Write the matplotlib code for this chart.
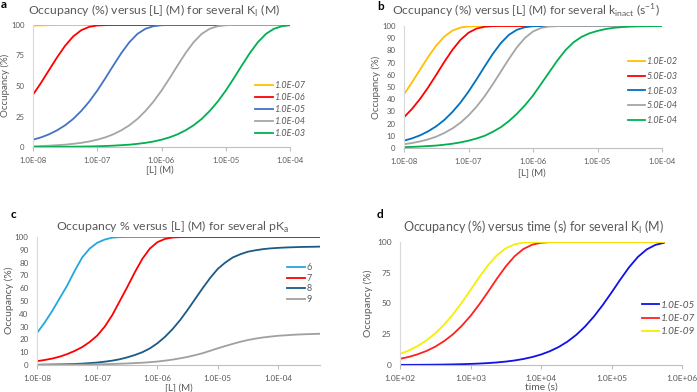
import numpy as np
import matplotlib
matplotlib.use('Agg')
import matplotlib.pyplot as plt

plt.rcParams['font.family'] = ['Lato', 'DejaVu Sans']
plt.rcParams['mathtext.fontset'] = 'custom'
plt.rcParams['mathtext.rm'] = 'Lato'

# ---- data (1/8 decade steps) ----
conc_ab = [1.0e-8, 1.334e-8, 1.778e-8, 2.371e-8, 3.162e-8, 4.217e-8, 5.623e-8, 7.499e-8,
           1.0e-7, 1.334e-7, 1.778e-7, 2.371e-7, 3.162e-7, 4.217e-7, 5.623e-7, 7.499e-7,
           1.0e-6, 1.334e-6, 1.778e-6, 2.371e-6, 3.162e-6, 4.217e-6, 5.623e-6, 7.499e-6,
           1.0e-5, 1.334e-5, 1.778e-5, 2.371e-5, 3.162e-5, 4.217e-5, 5.623e-5, 7.499e-5,
           1.0e-4]

# panel a: several KI (M)
ki_labels_a = ['1.0E-07', '1.0E-06', '1.0E-05', '1.0E-04', '1.0E-03']
a_ki7 = [99.6, 99.7, 99.9] + [100] * 30
a_ki6 = [42.9, 52.6, 63.1, 73.5, 83.0, 90.6, 95.7, 98.5, 99.6, 99.9] + [100] * 23
a_ki5 = [6.0, 7.9, 10.4, 13.7, 17.8, 23.0, 29.5, 37.2, 46.2, 56.3, 66.8, 77.0, 85.9,
         92.7, 96.9, 99.0, 99.8] + [100] * 16
a_ki4 = [0.6, 0.8, 1.1, 1.5, 1.9, 2.6, 3.4, 4.5,
         6.0, 7.9, 10.4, 13.7, 17.8, 23.0, 29.5, 37.2, 46.2, 56.3, 66.8, 77.0, 85.9,
         92.7, 96.9, 99.0, 99.8] + [100] * 8
a_ki3 = [0.06, 0.08, 0.11, 0.15, 0.2, 0.26, 0.35, 0.46, 0.6, 0.8, 1.1, 1.5, 1.9, 2.6, 3.4, 4.5,
         6.0, 7.9, 10.4, 13.7, 17.8, 23.0, 29.5, 37.2, 46.2, 56.3, 66.8, 77.0, 85.9,
         92.7, 96.9, 99.0, 99.8]

# panel b: several kinact (s-1)
kin_labels_b = ['1.0E-02', '5.0E-03', '1.0E-03', '5.0E-04', '1.0E-04']
b_k1 = [44.0, 53.9, 64.3, 74.7, 84.0, 91.3, 96.2, 98.7, 99.7, 99.9] + [100] * 23
b_k2 = [25.2, 32.1, 40.3, 49.7, 60.0, 70.6, 80.4, 88.6, 94.5, 97.9, 99.4, 99.9] + [100] * 21
b_k3 = [6.0, 7.9, 10.4, 13.7, 17.8, 23.0, 29.5, 37.2, 46.2, 56.3, 66.8, 77.0, 85.9,
        92.7, 96.9, 99.0, 99.8] + [100] * 16
b_k4 = [3.1, 4.1, 5.4, 7.1, 9.3, 12.3, 16.0, 20.7, 26.7, 33.9, 42.4, 52.1, 62.5, 72.9,
        82.5, 90.2, 95.5, 98.4, 99.6, 99.9] + [100] * 13
b_k5 = [0.7, 0.9, 1.2, 1.6, 2.0, 2.7, 3.5, 4.6, 6.0, 7.8, 10, 13.2, 17, 22, 28, 35, 43,
        52.5, 62, 71.5, 80, 86.5, 91, 94, 96, 97.5, 98.5, 99.1, 99.5, 99.7, 99.8, 99.9, 100]

# panel c: several pKa
conc_c = conc_ab + [1.334e-4, 1.778e-4, 2.371e-4, 3.162e-4, 4.217e-4, 5.0e-4]
pka_labels = ['6', '7', '8', '9']
c_p6 = [25, 33, 42, 52, 62, 73.5, 84, 91, 95.5, 98, 99.5, 99.9] + [100] * 27
c_p7 = [3, 3.9, 5, 6.5, 8.5, 11, 14, 18, 23, 30, 39, 50, 61, 72.5, 83, 91, 96, 98.5,
        99.6, 99.9] + [100] * 19
c_p8 = [0.2, 0.3, 0.4, 0.5, 0.6, 0.8, 1.1, 1.5, 1.9, 2.6, 3.4, 4.5, 6, 7.8, 10, 13, 17,
        22, 28, 35, 43, 51.5, 60, 68, 75, 80, 84, 86.5, 88.5, 89.6, 90.5, 91.1, 91.5,
        91.8, 92, 92.2, 92.3, 92.4, 92.5]
c_p9 = [0.1, 0.1, 0.1, 0.15, 0.2, 0.25, 0.3, 0.4, 0.5, 0.65, 0.8, 1.0, 1.2, 1.5, 1.8, 2.2,
        2.7, 3.4, 4.2, 5.2, 6.3, 7.7, 9.2, 11.1, 13, 14.8, 16.5, 18.1, 19.5, 20.6, 21.5,
        22.2, 22.8, 23.2, 23.6, 23.9, 24.1, 24.3, 24.4]

# panel d: occupancy vs time for several KI
time_d = [1.0e2, 1.334e2, 1.778e2, 2.371e2, 3.162e2, 4.217e2, 5.623e2, 7.499e2,
          1.0e3, 1.334e3, 1.778e3, 2.371e3, 3.162e3, 4.217e3, 5.623e3, 7.499e3,
          1.0e4, 1.334e4, 1.778e4, 2.371e4, 3.162e4, 4.217e4, 5.623e4, 7.499e4,
          1.0e5, 1.334e5, 1.778e5, 2.371e5, 3.162e5, 4.217e5, 5.5e5]
ki_labels_d = ['1.0E-05', '1.0E-07', '1.0E-09']
d_ki5 = [0.09, 0.12, 0.16, 0.21, 0.28, 0.37, 0.5, 0.66, 0.89, 1.18, 1.57, 2.09, 2.78,
         3.68, 4.88, 6.46, 8.52, 11.2, 14.6, 19.0, 24.5, 31.3, 39.4, 48.7, 58.9, 69.5,
         79.5, 87.9, 94.0, 97.7, 99.3]
d_ki7 = [5.0, 6.6, 8.7, 11.4, 14.9, 19.4, 24.9, 31.8, 39.9, 49.3, 59.6, 70.2, 80.1, 88.4,
         94.3, 97.8, 99.4, 99.9] + [100] * 13
d_ki9 = [9.0, 11.8, 15.4, 20.0, 25.7, 32.7, 41.1, 50.6, 60.9, 71.5, 81.2, 89.2, 94.9,
         98.1, 99.5, 99.9] + [100] * 15

xticks_conc = [1e-8, 1e-7, 1e-6, 1e-5, 1e-4]
xticklabels_conc = ['1.0E-08', '1.0E-07', '1.0E-06', '1.0E-05', '1.0E-04']
xticks_time = [1e2, 1e3, 1e4, 1e5, 1e6]
xticklabels_time = ['1.0E+02', '1.0E+03', '1.0E+04', '1.0E+05', '1.0E+06']

GREY = '#595959'
W, H = 697, 392


def box(x0, y0, x1, y1):
    # pixel box -> figure fraction
    return [x0 / W, 1 - y1 / H, (x1 - x0) / W, (y1 - y0) / H]


def style(ax, xt, xtl, yt, fs):
    ax.set_xscale('log')
    ax.set_xticks(xt)
    ax.set_xticklabels(xtl)
    ax.minorticks_off()
    ax.set_yticks(yt)
    ax.set_ylim(0, 100)
    for s in ['top', 'right']:
        ax.spines[s].set_visible(False)
    ax.spines['left'].set_color('#D9D9D9')
    ax.spines['bottom'].set_color('#BFBFBF')
    ax.spines['left'].set_linewidth(0.8)
    ax.spines['bottom'].set_linewidth(0.8)
    ax.tick_params(axis='y', length=0, pad=6, labelsize=fs, labelcolor=GREY)
    ax.tick_params(axis='x', length=3, color='#BFBFBF', pad=4, labelsize=fs, labelcolor=GREY)


def add_legend(ax, x, y, fs, ls, hl, italic=True):
    leg = ax.legend(loc='upper left', bbox_to_anchor=(x / W, 1 - y / H), bbox_transform=fig.transFigure,
                    frameon=False, fontsize=fs, handlelength=hl, labelspacing=ls, handletextpad=0.15,
                    borderaxespad=0, borderpad=0)
    for t in leg.get_texts():
        t.set_color(GREY)
        if italic:
            t.set_style('italic')


fig = plt.figure(figsize=(6.97, 3.92), dpi=100)
lw = 1.3

# ---- a ----
ax = fig.add_axes(box(33, 25, 290, 147))
cols = ['#FFC000', '#FF0000', '#4472C4', '#A5A5A5', '#00B050']
for yv, c, lab in zip([a_ki7, a_ki6, a_ki5, a_ki4, a_ki3], cols, ki_labels_a):
    ax.plot(conc_ab, yv, color=c, lw=lw, label=lab)
ax.set_xlim(1e-8, 1e-4)
style(ax, xticks_conc, xticklabels_conc, [0, 25, 50, 75, 100], 5.6)
add_legend(ax, 255, 81.5, 6.5, 0.32, 1.95)
fig.text(154 / W, 1 - 10.5 / H, 'Occupancy (%) versus [L] (M) for several K$_\\mathregular{I}$ (M)',
         ha='center', va='center', fontsize=8.8, color=GREY)
fig.text(160 / W, 1 - 170 / H, '[L] (M)', ha='center', va='center', fontsize=7, color=GREY)
fig.text(5 / W, 1 - 85 / H, 'Occupancy (%)', ha='center', va='center', rotation=90, fontsize=7, color=GREY)
fig.text(1 / W, 1 - 5 / H, 'a', ha='left', va='center', fontsize=8.5, fontweight='bold')

# ---- b ----
ax = fig.add_axes(box(404, 26, 662, 148))
cols = ['#FFC000', '#FF0000', '#0070C0', '#A5A5A5', '#00B050']
for yv, c, lab in zip([b_k1, b_k2, b_k3, b_k4, b_k5], cols, kin_labels_b):
    ax.plot(conc_ab, yv, color=c, lw=lw, label=lab)
ax.set_xlim(1e-8, 1e-4)
style(ax, xticks_conc, xticklabels_conc, list(range(0, 101, 10)), 5.6)
add_legend(ax, 628, 56.8, 6.5, 0.65, 1.9)
fig.text(526 / W, 1 - 11.7 / H,
         'Occupancy (%) versus [L] (M) for several k$_\\mathregular{inact}$ (s$^\\mathregular{-1}$)',
         ha='center', va='center', fontsize=8.7, color=GREY)
fig.text(532 / W, 1 - 173 / H, '[L] (M)', ha='center', va='center', fontsize=7, color=GREY)
fig.text(376 / W, 1 - 87 / H, 'Occupancy (%)', ha='center', va='center', rotation=90, fontsize=7, color=GREY)
fig.text(377 / W, 1 - 6 / H, 'b', ha='left', va='center', fontsize=8.5, fontweight='bold')

# ---- c ----
ax = fig.add_axes(box(37, 237, 320, 365))
cols = ['#22A7E0', '#FF0000', '#1B5A85', '#A0A0A0']
for yv, c, lab in zip([c_p6, c_p7, c_p8, c_p9], cols, pka_labels):
    ax.plot(conc_c, yv, color=c, lw=lw, label=lab)
ax.set_xlim(1e-8, 5e-4)
style(ax, xticks_conc, xticklabels_conc, list(range(0, 101, 10)), 5.8)
add_legend(ax, 287, 263.4, 6.5, 0.17, 2.0, italic=False)
fig.text(172 / W, 1 - 227 / H, 'Occupancy % versus [L] (M) for several pK$_\\mathregular{a}$',
         ha='center', va='center', fontsize=8.8, color=GREY)
fig.text(179 / W, 1 - 388 / H, '[L] (M)', ha='center', va='center', fontsize=7, color=GREY)
fig.text(9 / W, 1 - 300 / H, 'Occupancy (%)', ha='center', va='center', rotation=90, fontsize=7.5, color=GREY)
fig.text(11 / W, 1 - 215 / H, 'c', ha='left', va='center', fontsize=8.5, fontweight='bold')

# ---- d ----
ax = fig.add_axes(box(400, 242, 682, 365))
cols = ['#1010E8', '#FF2020', '#F5F000']
for yv, c, lab in zip([d_ki5, d_ki7, d_ki9], cols, ki_labels_d):
    ax.plot(time_d, yv, color=c, lw=lw, label=lab)
ax.set_xlim(1e2, 1e6)
style(ax, xticks_time, xticklabels_time, [0, 25, 50, 75, 100], 6.0)
add_legend(ax, 641.7, 300.7, 7.2, 0.44, 1.73)
fig.text(534 / W, 1 - 227 / H, 'Occupancy (%) versus time (s) for several K$_\\mathregular{I}$ (M)',
         ha='center', va='center', fontsize=9.0, color=GREY)
fig.text(541 / W, 1 - 387 / H, 'time (s)', ha='center', va='center', fontsize=7.5, color=GREY)
fig.text(368 / W, 1 - 303 / H, 'Occupancy (%)', ha='center', va='center', rotation=90, fontsize=7.5, color=GREY)
fig.text(377 / W, 1 - 215 / H, 'd', ha='left', va='center', fontsize=8.5, fontweight='bold')

fig.savefig('out.png', dpi=100)
